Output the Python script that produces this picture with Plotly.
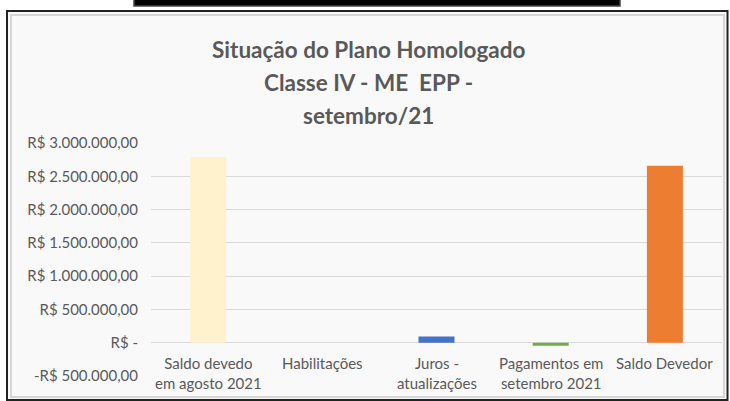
import plotly.graph_objects as go

categories = ["Saldo devedo<br>em agosto 2021", "Habilitações", "Juros -<br>atualizações",
              "Pagamentos em<br>setembro 2021", "Saldo Devedor"]
values = [2790000, 0, 95000, -45000, 2660000]
bar_colors = ["#FFF2CC", "#A5A5A5", "#4472C4", "#70AD47", "#ED7D31"]
tick_vals = [-500000, 0, 500000, 1000000, 1500000, 2000000, 2500000, 3000000]
tick_text = ["-R$ 500.000,00", "R$ -", "R$ 500.000,00", "R$ 1.000.000,00", "R$ 1.500.000,00",
             "R$ 2.000.000,00", "R$ 2.500.000,00", "R$ 3.000.000,00"]
title_lines = ["Situação do Plano Homologado", "Classe IV - ME\u00a0 EPP -", "setembro/21"]

W, H = 730, 401
ML, MR, MT, MB = 151, 8, 143, 25
PW, PH = W - ML - MR, H - MT - MB
TXT = "#595959"
FONT = "Lato"


def px(x):
    return (x - ML) / PW


def py(y):
    return (H - MB - y) / PH


fig = go.Figure()
fig.add_trace(go.Bar(x=categories, y=values, marker=dict(color=bar_colors, line=dict(width=0)),
                     hoverinfo="skip"))

annotations = []
for c in categories:
    annotations.append(dict(x=c, y=0, xref="x", yref="y", text=c, showarrow=False,
                            yanchor="top", xanchor="center", yshift=-9,
                            font=dict(family=FONT, size=15, color=TXT)))
for i, t in enumerate(title_lines):
    annotations.append(dict(x=px(368), y=py(50 + 32.5 * i), xref="paper", yref="paper", text=t,
                            showarrow=False, xanchor="center", yanchor="middle",
                            font=dict(family=FONT, size=22.5, color=TXT, weight="bold")))

shapes = [
    # dark strip at top
    dict(type="rect", xref="paper", yref="paper", x0=px(134), x1=px(620), y0=py(6), y1=py(-2),
         fillcolor="#000000", line=dict(width=1.5, color="#444444"), layer="below"),
    # outer frame
    dict(type="rect", xref="paper", yref="paper", x0=px(7), x1=px(727.5), y0=py(400), y1=py(11),
         fillcolor="#f9f9f9", line=dict(width=2, color="#222222"), layer="below"),
    # inner bevel
    dict(type="rect", xref="paper", yref="paper", x0=px(11), x1=px(724), y0=py(397), y1=py(15),
         fillcolor="rgba(0,0,0,0)", line=dict(width=2, color="#d6d6d6"), layer="below"),
]

fig.update_layout(
    width=W, height=H,
    margin=dict(l=ML, r=MR, t=MT, b=MB, pad=0, autoexpand=False),
    paper_bgcolor="#ffffff",
    plot_bgcolor="rgba(0,0,0,0)",
    showlegend=False,
    bargap=0.685,
    font=dict(family=FONT, size=15, color=TXT),
    xaxis=dict(showticklabels=False, showgrid=False, zeroline=False, showline=False, ticks="",
               automargin=False),
    yaxis=dict(range=[-500000, 3000000], tickvals=tick_vals, ticktext=tick_text,
               showgrid=True, gridcolor="#d9d9d9", gridwidth=1, zeroline=True,
               zerolinecolor="#d9d9d9", zerolinewidth=1, showline=False, ticks="",
               ticklabelstandoff=12, automargin=False,
               tickfont=dict(family=FONT, size=15, color=TXT)),
    annotations=annotations,
    shapes=shapes,
)

fig.write_html("out.html", config={"displayModeBar": False},
               post_script="document.body.style.margin='0';")
